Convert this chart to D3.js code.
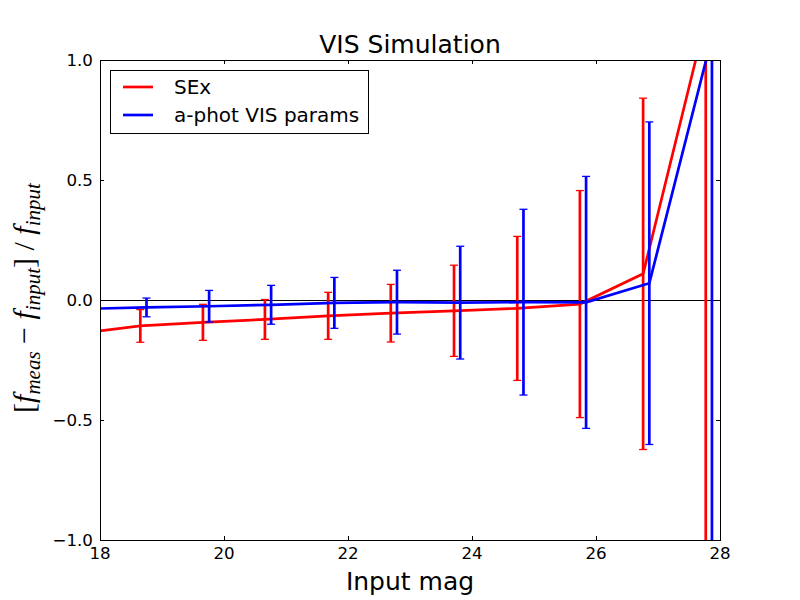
<!DOCTYPE html>
<html lang="en"><head>
  <meta charset="utf-8">
  <title>VIS Simulation</title>
  <script src="https://cdnjs.cloudflare.com/ajax/libs/d3/7.8.5/d3.min.js"></script>
  <style>
    body { margin: 0; background: #fff; }
    svg { font-family: "DejaVu Sans", sans-serif; }
  </style>
</head>
<body>
<svg id="chart" width="800" height="600"></svg>
<script>
// values (first point sits left of the axis, clipped)
let mag_sex = [17.65, 18.65, 19.66, 20.66, 21.68, 22.69, 23.71, 24.73, 25.74, 26.76, 27.77]
let sex_val = [-0.14, -0.108, -0.093, -0.081, -0.066, -0.055, -0.045, -0.035, -0.017, 0.109, 1.17]
let sex_err = [0.07, 0.068, 0.075, 0.083, 0.098, 0.12, 0.19, 0.30, 0.473, 0.732, 3.0]

let mag_ap = [17.75, 18.75, 19.76, 20.76, 21.78, 22.79, 23.81, 24.83, 25.84, 26.86, 27.87]
let ap_val = [-0.037, -0.031, -0.026, -0.02, -0.012, -0.009, -0.011, -0.009, -0.01, 0.07, 1.095]
let ap_err = [0.04, 0.039, 0.066, 0.081, 0.106, 0.133, 0.235, 0.387, 0.525, 0.672, 3.0]

let x_ticks = [18, 20, 22, 24, 26, 28]
let y_ticks = [-1.0, -0.5, 0.0, 0.5, 1.0]

let series = [
  {name: "SEx", color: "#ff0000", x: mag_sex, y: sex_val, e: sex_err},
  {name: "a-phot VIS params", color: "#0000ff", x: mag_ap, y: ap_val, e: ap_err}
]

let margin = {top: 60, right: 80, bottom: 60, left: 100}
let width = 800 - margin.left - margin.right
let height = 600 - margin.top - margin.bottom

let svg = d3.select("#chart")
let g = svg.append("g").attr("transform", `translate(${margin.left},${margin.top})`)

let x = d3.scaleLinear().domain([18, 28]).range([0, width])
let y = d3.scaleLinear().domain([-1, 1]).range([height, 0])

svg.append("defs").append("clipPath").attr("id", "clip")
  .append("rect").attr("width", width).attr("height", height)

let plot = g.append("g").attr("clip-path", "url(#clip)")

// zero line
plot.append("line")
  .attr("x1", 0).attr("x2", width)
  .attr("y1", y(0) + 0.5).attr("y2", y(0) + 0.5)
  .attr("stroke", "black").attr("stroke-width", 1.2)

series.forEach(s => {
  let pts = s.x.map((v, i) => ({x: v, y: s.y[i], e: s.e[i]}))
  let line = d3.line().x(d => x(d.x)).y(d => y(d.y))
  plot.append("path")
    .datum(pts)
    .attr("d", line)
    .attr("fill", "none")
    .attr("stroke", s.color)
    .attr("stroke-width", 2.7)

  let bars = plot.append("g").selectAll("g").data(pts).join("g")
  bars.append("line")
    .attr("x1", d => x(d.x)).attr("x2", d => x(d.x))
    .attr("y1", d => y(d.y + d.e)).attr("y2", d => y(d.y - d.e))
    .attr("stroke", s.color).attr("stroke-width", 2.7)
  ;[1, -1].forEach(sign => {
    bars.append("line")
      .attr("x1", d => x(d.x) - 4).attr("x2", d => x(d.x) + 4)
      .attr("y1", d => y(d.y + sign * d.e)).attr("y2", d => y(d.y + sign * d.e))
      .attr("stroke", s.color).attr("stroke-width", 1.3)
  })
})

// axes, matplotlib classic style: ticks inside on all four sides
let tick_len = 4
let axes = g.append("g").attr("shape-rendering", "crispEdges")
x_ticks.forEach(t => {
  axes.append("line").attr("x1", x(t)).attr("x2", x(t)).attr("y1", height).attr("y2", height - tick_len).attr("stroke", "black")
  axes.append("line").attr("x1", x(t)).attr("x2", x(t)).attr("y1", 0).attr("y2", tick_len).attr("stroke", "black")
  axes.append("text").attr("x", x(t)).attr("y", height + 19)
    .attr("text-anchor", "middle").attr("font-size", 16.7).text(t)
})
y_ticks.forEach(t => {
  axes.append("line").attr("x1", 0).attr("x2", tick_len).attr("y1", y(t)).attr("y2", y(t)).attr("stroke", "black")
  axes.append("line").attr("x1", width).attr("x2", width - tick_len).attr("y1", y(t)).attr("y2", y(t)).attr("stroke", "black")
  axes.append("text").attr("x", -7).attr("y", y(t)).attr("dy", "0.35em")
    .attr("text-anchor", "end").attr("font-size", 16.7)
    .text(d3.format(".1f")(t).replace("-", "\u2212"))
})
axes.append("rect").attr("width", width).attr("height", height)
  .attr("fill", "none").attr("stroke", "black").attr("stroke-width", 1)

// title and labels
svg.append("text").attr("x", margin.left + width / 2).attr("y", 53)
  .attr("text-anchor", "middle").attr("font-size", 25).text("VIS Simulation")
svg.append("text").attr("x", margin.left + width / 2).attr("y", 590)
  .attr("text-anchor", "middle").attr("font-size", 25).text("Input mag")

let ylab = svg.append("text")
  .attr("transform", "translate(34,298) rotate(-90)")
  .attr("text-anchor", "middle")
  .attr("font-family", "'Liberation Serif', serif")
  .attr("font-size", 30)
ylab.append("tspan").text("[")
ylab.append("tspan").attr("font-style", "italic").text("f")
ylab.append("tspan").attr("font-style", "italic").attr("font-size", 21).attr("dy", 6).text("meas")
ylab.append("tspan").attr("dy", -6).text(" \u2212 ")
ylab.append("tspan").attr("font-style", "italic").text("f")
ylab.append("tspan").attr("font-style", "italic").attr("font-size", 21).attr("dy", 6).text("input")
ylab.append("tspan").attr("dy", -6).text("] / ")
ylab.append("tspan").attr("font-style", "italic").text("f")
ylab.append("tspan").attr("font-style", "italic").attr("font-size", 21).attr("dy", 6).text("input")

// legend
let leg = svg.append("g").attr("transform", "translate(110,70)")
leg.append("rect").attr("x", 0.5).attr("y", 0.5).attr("width", 258).attr("height", 63)
  .attr("fill", "white").attr("stroke", "black").attr("stroke-width", 1)
series.forEach((s, i) => {
  let yy = 17 + i * 28
  leg.append("line").attr("x1", 13).attr("x2", 43).attr("y1", yy).attr("y2", yy)
    .attr("stroke", s.color).attr("stroke-width", 2.7)
  leg.append("text").attr("x", 64).attr("y", yy).attr("dy", "0.35em")
    .attr("font-size", 20).text(s.name)
})
</script>
</body>
</html>
